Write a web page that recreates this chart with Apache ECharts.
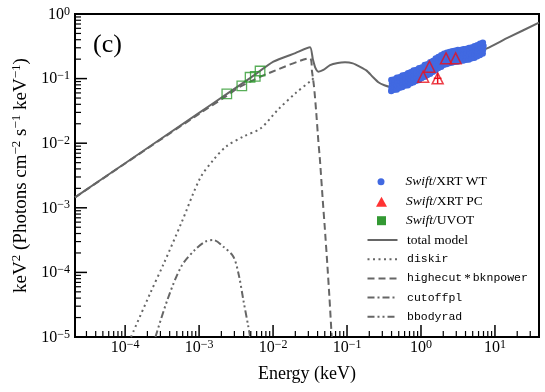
<!DOCTYPE html>
<html>
<head>
<meta charset="utf-8">
<script src="https://cdn.jsdelivr.net/npm/echarts@6/dist/echarts.min.js"></script>
<style>
html, body { margin: 0; padding: 0; background: #fff; }
#chart { width: 545px; height: 392px; }
</style>
</head>
<body>
<div id="chart"></div>
<script>
// axis ranges / ticks
var xMin = 2.1e-5, xMax = 39.4;
var yMin = 1e-5, yMax = 1;
var xMajor = [1e-4, 1e-3, 1e-2, 1e-1, 1, 10];
var yMajor = [1e-5, 1e-4, 1e-3, 1e-2, 1e-1, 1];

// total model
var totalE = [2.1e-5, 1e-4, 1e-3, 2.3e-3, 5e-3, 1.01e-2, 0.02, 0.0316, 0.0345, 0.0375, 0.0409, 0.0479, 0.0589, 0.075, 0.094, 0.12, 0.15, 0.184, 0.22, 0.265, 0.32, 0.381, 0.5, 0.7, 1.0, 1.5, 2.0, 3.0, 4.0, 5.5, 7.8, 15, 39.4];
var totalF = [1.45e-3, 4.9e-3, 0.0295, 0.0565, 0.1035, 0.183, 0.248, 0.305, 0.2, 0.145, 0.128, 0.136, 0.162, 0.175, 0.179, 0.172, 0.152, 0.133, 0.108, 0.088, 0.079, 0.075, 0.082, 0.096, 0.116, 0.145, 0.17, 0.2, 0.225, 0.255, 0.294, 0.43, 0.734];

// highecut*bknpower
var hcE = [2.1e-5, 1e-4, 1e-3, 2.3e-3, 3.58e-3, 5.42e-3, 8.65e-3, 0.0316, 0.0336, 0.0358, 0.0381, 0.041, 0.0431, 0.047, 0.050, 0.054, 0.058, 0.0621];
var hcF = [1.45e-3, 4.85e-3, 0.0285, 0.053, 0.075, 0.095, 0.121, 0.206, 0.13, 0.075, 0.033, 0.0106, 5.4e-3, 1.3e-3, 5e-4, 1.4e-4, 3.9e-5, 1e-5];

// diskir
var diskE = [1.2e-4, 2.19e-4, 3.35e-4, 5.75e-4, 1.03e-3, 1.56e-3, 2.33e-3, 3.98e-3, 6.8e-3, 0.0118, 0.02, 0.0333, 0.038];
var diskF = [1e-5, 4.8e-5, 1.39e-4, 5.8e-4, 2.86e-3, 5.5e-3, 8.9e-3, 0.0127, 0.017, 0.0335, 0.059, 0.095, 0.11];

// bbodyrad
var bbE = [2.57e-4, 3.74e-4, 5.75e-4, 8.8e-4, 1.22e-3, 1.56e-3, 2.13e-3, 2.91e-3, 3.45e-3, 3.97e-3, 4.63e-3, 4.9e-3];
var bbF = [1e-5, 3.8e-5, 1.24e-4, 2.24e-4, 3.0e-4, 3.17e-4, 2.5e-4, 1.75e-4, 9e-5, 3.7e-5, 1.45e-5, 1e-5];

// cutoffpl (falls below the plotted range)
var cplE = [];
var cplF = [];

// Swift/XRT WT
var wtE = [
  0.396,0.400,0.406,0.398, 0.432,0.436,0.442,0.434, 0.470,0.475,0.482,0.473, 0.513,0.518,0.526,0.515,
  0.559,0.565,0.573,0.562, 0.610,0.616,0.625,0.613, 0.664,0.671,0.681,0.668, 0.724,0.731,0.742,0.727,
  0.789,0.797,0.809,0.793, 0.860,0.869,0.882,0.865, 0.938,0.947,0.961,0.942, 1.02,1.03,1.045,1.025,
  1.12,1.13,1.147,1.124, 1.218,1.23,1.248,1.224, 1.327,1.34,1.36,1.333, 1.445,1.46,1.482,1.453,
  1.574,1.59,1.614,1.582, 1.713,1.73,1.756,1.721, 1.871,1.89,1.918,1.88, 2.04,2.06,2.09,2.05,
  2.228,2.25,2.284,2.239, 2.426,2.45,2.487,2.438, 2.643,2.67,2.71,2.657, 2.881,2.91,2.954,2.895,
  3.138,3.17,3.218,3.154, 3.425,3.46,3.512,3.443, 3.732,3.77,3.827,3.751, 4.069,4.11,4.172,4.089,
  4.435,4.48,4.547,4.458, 4.831,4.88,4.953,4.856, 5.267,5.32,5.4,5.293, 5.742,5.8,5.887,5.771,
  6.257,6.32,6.415,6.288, 6.821,6.89,6.993,6.855];
var wtF = [
  0.064,0.073,0.083,0.095, 0.067,0.075,0.086,0.097, 0.068,0.079,0.090,0.103, 0.072,0.082,0.093,0.105,
  0.074,0.086,0.097,0.112, 0.078,0.088,0.101,0.114, 0.079,0.092,0.105,0.121, 0.085,0.097,0.110,0.125,
  0.088,0.102,0.116,0.133, 0.093,0.105,0.120,0.136, 0.095,0.110,0.125,0.144, 0.102,0.116,0.132,0.149,
  0.107,0.124,0.141,0.162, 0.114,0.130,0.148,0.167, 0.119,0.137,0.156,0.179, 0.128,0.146,0.166,0.188,
  0.135,0.156,0.178,0.204, 0.146,0.166,0.189,0.215, 0.153,0.177,0.201,0.230, 0.164,0.187,0.213,0.242,
  0.168,0.194,0.220,0.252, 0.175,0.199,0.227,0.258, 0.177,0.204,0.232,0.266, 0.182,0.208,0.236,0.269,
  0.184,0.212,0.241,0.276, 0.189,0.215,0.245,0.278, 0.190,0.219,0.249,0.285, 0.195,0.223,0.254,0.288,
  0.198,0.228,0.260,0.297, 0.206,0.235,0.268,0.304, 0.211,0.243,0.276,0.316, 0.222,0.254,0.289,0.328,
  0.232,0.267,0.304,0.347, 0.245,0.280,0.319,0.358];

// Swift/XRT PC
var pcE = [1.07, 1.30, 1.68, 2.18, 2.94];
var pcF = [0.107, 0.153, 0.101, 0.206, 0.206];
// error bar on the 1.68 keV point
var pcErrE = [1.49, 1.89];
var pcErrF = [0.084, 0.121];

// Swift/UVOT
var uvotE = [2.37e-3, 3.78e-3, 4.89e-3, 5.75e-3, 6.67e-3];
var uvotF = [0.058, 0.077, 0.105, 0.108, 0.131];

function zip(a, b) {
  return a.map(function (v, i) { return [v, b[i]]; });
}

// minor ticks 2..9 per decade
function minors(lo, hi) {
  var out = [];
  for (var n = -6; n <= 2; n++) {
    for (var k = 2; k <= 9; k++) {
      var v = k * Math.pow(10, n);
      if (v > lo && v < hi) out.push(v);
    }
  }
  return out;
}
var xMinor = minors(xMin, xMax);
var yMinor = minors(yMin, yMax);

var serif = 'Liberation Serif';
var mono = 'Liberation Mono';
var grey = '#666666';

function powLabel(v) {
  var e = Math.round(Math.log10(v));
  return '{b|10}{s|' + (e < 0 ? '\u2212' + (-e) : e) + '}';
}
var powRich = {
  b: { fontFamily: serif, fontSize: 16, color: '#000', lineHeight: 17, padding: [6, 0, 0, 0], verticalAlign: 'bottom' },
  s: { fontFamily: serif, fontSize: 12, color: '#000', lineHeight: 12, verticalAlign: 'top' }
};

function logAxis(pos, min, max, ticks, extra) {
  var a = {
    type: 'log', min: min, max: max,
    axisLine: { show: true, lineStyle: { color: '#000', width: 2 } },
    axisTick: { show: false },
    axisLabel: { show: true, customValues: ticks, formatter: powLabel, rich: powRich, margin: pos === 'left' ? 5 : 2 },
    splitLine: { show: false }
  };
  for (var k in extra) a[k] = extra[k];
  return a;
}

var legendText = {
  'Swift/XRT WT': '{i|Swift}/XRT WT',
  'Swift/XRT PC': '{i|Swift}/XRT PC',
  'Swift/UVOT': '{i|Swift}/UVOT',
  'total model': 'total model',
  'diskir': '{m|diskir}',
  'highecut*bknpower': '{m|highecut}{a|*}{m|bknpower}',
  'cutoffpl': '{m|cutoffpl}',
  'bbodyrad': '{m|bbodyrad}'
};
function legendStyle(padLeft) {
  return {
    fontFamily: serif, fontSize: 13.5, color: '#000', lineHeight: 14, padding: [0, 0, 0, padLeft],
    rich: {
      i: { fontFamily: serif, fontStyle: 'italic', fontSize: 13.5, lineHeight: 14 },
      m: { fontFamily: mono, fontSize: 11.5, lineHeight: 14 },
      a: { fontFamily: serif, fontSize: 13, lineHeight: 14, padding: [0, 2, 0, 2] }
    }
  };
}
// cx: icon centre x; text always starts at x = 406
function legendBox(top, cx, w, h, data) {
  var left = cx - w / 2;
  return {
    orient: 'vertical', left: left, top: top, itemWidth: w, itemHeight: h, itemGap: 5.2,
    padding: 0, selectedMode: false, symbolKeepAspect: true, data: data,
    formatter: function (n) { return legendText[n]; },
    textStyle: legendStyle(406 - (left + w + 5))
  };
}
function lineItem(name) {
  return { name: name, itemStyle: { color: 'transparent', opacity: 0, borderWidth: 0 } };
}

function lineSeries(name, e, f, dash, smooth) {
  return {
    name: name, type: 'line', data: zip(e, f), symbol: 'none', smooth: smooth,
    lineStyle: { color: grey, width: 2, type: dash },
    itemStyle: { color: grey },
    clip: true, z: 2
  };
}

var labelC = {
  type: 'text', left: 93, top: 32,
  style: { text: '(c)', fontFamily: serif, fontSize: 26, fill: '#000' }
};

var chart = echarts.init(document.getElementById('chart'));
chart.setOption({
  animation: false,
  grid: {
    left: 75, right: 6, top: 14, bottom: 55,
    containLabel: false, outerBoundsMode: 'none',
    show: true, borderColor: '#000', borderWidth: 2
  },
  xAxis: logAxis('bottom', xMin, xMax, xMajor, {
    name: 'Energy (keV)', nameLocation: 'middle', nameGap: 28,
    nameTextStyle: { fontFamily: serif, fontSize: 18, color: '#000' }
  }),
  yAxis: logAxis('left', yMin, yMax, yMajor, {
    name: '{n|keV}{s|2}{n| (Photons cm}{s|\u22122}{n| s}{s|\u22121}{n| keV}{s|\u22121}{n|)}',
    nameLocation: 'middle', nameRotate: 90, nameGap: 42,
    nameTextStyle: {
      fontFamily: serif, fontSize: 19, color: '#000',
      rich: {
        n: { fontFamily: serif, fontSize: 19, color: '#000', lineHeight: 20, padding: [6, 0, 0, 0], verticalAlign: 'bottom' },
        s: { fontFamily: serif, fontSize: 13, color: '#000', lineHeight: 13, verticalAlign: 'top' }
      }
    }
  }),
  legend: [
    legendBox(174.7, 381.5, 8, 7, [{ name: 'Swift/XRT WT', icon: 'circle', itemStyle: { color: '#4169e1', borderWidth: 0 } }]),
    legendBox(194.7, 381.5, 11, 10, [{ name: 'Swift/XRT PC', icon: 'triangle', itemStyle: { color: '#ff0000', borderWidth: 0 } }]),
    legendBox(213.7, 381.5, 9, 9, [{ name: 'Swift/UVOT', icon: 'rect', itemStyle: { color: '#008000', borderWidth: 0 } }]),
    legendBox(233, 381.5, 30, 14, ['total model', 'diskir', 'highecut*bknpower', 'cutoffpl', 'bbodyrad'].map(lineItem))
  ],
  graphic: [labelC],
  series: [
    lineSeries('total model', totalE, totalF, 'solid', 0.2),
    lineSeries('diskir', diskE, diskF, [2, 3.5], 0.3),
    lineSeries('highecut*bknpower', hcE, hcF, [7, 4], 0.2),
    lineSeries('cutoffpl', cplE, cplF, [7, 3, 2, 3], 0.3),
    lineSeries('bbodyrad', bbE, bbF, [7, 3, 2, 3, 2, 3], 0.3),
    {
      name: 'Swift/XRT WT', type: 'scatter', data: zip(wtE, wtF),
      symbol: 'circle', symbolSize: 6.5,
      itemStyle: { color: '#4169e1', opacity: 1 }, z: 3
    },
    {
      name: 'Swift/UVOT', type: 'scatter', data: zip(uvotE, uvotF),
      symbol: 'rect', symbolSize: 9.5,
      itemStyle: { color: 'transparent', borderColor: '#2e9a2e', borderWidth: 1.3 }, z: 4
    },
    {
      name: 'Swift/XRT PC', type: 'scatter', data: zip(pcE, pcF),
      symbol: 'triangle', symbolSize: 11,
      itemStyle: { color: 'transparent', borderColor: '#e8101c', borderWidth: 1.5 }, z: 5
    }
  ]
});

// ticks and the PC error bar, placed through the chart's own scales
function px(p) { return chart.convertToPixel({ gridIndex: 0 }, p); }
function seg(a, b, color, w) {
  return {
    type: 'line', silent: true, z: 100,
    shape: { x1: a[0], y1: a[1], x2: b[0], y2: b[1] },
    style: { stroke: color, lineWidth: w }
  };
}
var extra = [labelC];
function xTick(v, len, w) {
  var p = px([v, yMin]);
  extra.push(seg(p, [p[0], p[1] - len], '#000', w));
}
function yTick(v, len, w) {
  var p = px([xMin, v]);
  extra.push(seg(p, [p[0] + len, p[1]], '#000', w));
}
xMajor.forEach(function (v) { xTick(v, 12, 1.5); });
xMinor.forEach(function (v) { xTick(v, 6, 1.2); });
yMajor.forEach(function (v) { yTick(v, 12, 1.5); });
yMinor.forEach(function (v) { yTick(v, 6, 1.2); });
extra.push(seg(px([pcErrE[0], pcF[2]]), px([pcErrE[1], pcF[2]]), '#e8101c', 1.5));
extra.push(seg(px([pcE[2], pcErrF[0]]), px([pcE[2], pcErrF[1]]), '#e8101c', 1.5));
chart.setOption({ graphic: extra });
</script>
</body>
</html>
